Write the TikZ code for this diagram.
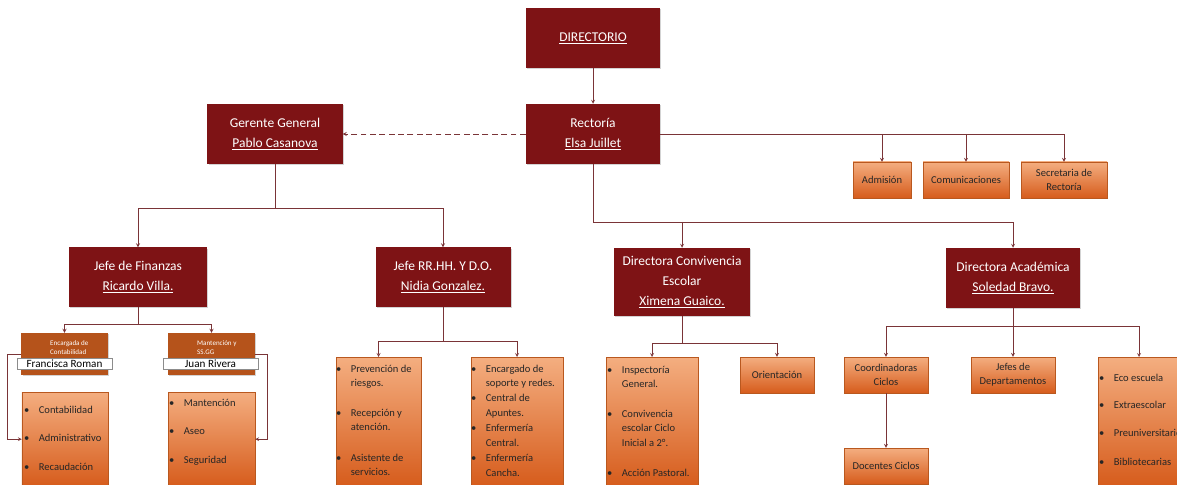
\documentclass[tikz,border=0pt]{standalone}
\usepackage{fontspec}
\setmainfont{Carlito}
\usetikzlibrary{shadows}

\definecolor{granate}{HTML}{7E1315}
\definecolor{naranjaclaro}{HTML}{F4AE80}
\definecolor{naranjaoscuro}{HTML}{D65C1C}
\definecolor{naranjaborde}{HTML}{B9581F}
\definecolor{cobre}{HTML}{B5531B}
\definecolor{linea}{HTML}{7A3437}

\newenvironment{puntos}[1]{\fontsize{9}{#1}\selectfont\begin{tabular}[t]{@{}l@{\hspace{8pt}}l@{}}}{\end{tabular}}

\begin{document}
\begin{tikzpicture}[x=0.03cm, y=-0.03cm,
        sombra/.style={drop shadow={shadow xshift=1.2pt, shadow yshift=-1.2pt, opacity=0.35}},
        jefe/.style={rectangle, fill=granate, text=white, align=center, minimum width=4.02cm, minimum height=1.8cm, font=\fontsize{11.5}{17}\selectfont, sombra},
        unidad/.style={rectangle, draw=naranjaborde, line width=0.3pt, top color=naranjaclaro, bottom color=naranjaoscuro, align=center, minimum height=1.08cm, font=\fontsize{9}{12}\selectfont, text=black!85, sombra},
        lista/.style={unidad, anchor=north},
        items/.style={inner sep=0pt, anchor=base west, text=black!85},
        encargo/.style={rectangle, fill=cobre, minimum width=2.58cm, minimum height=1.26cm, sombra},
        cinta/.style={rectangle, draw=black!45, fill=white, minimum width=2.85cm, minimum height=0.33cm, inner sep=0pt, font=\fontsize{9.5}{10}\selectfont},
        conector/.style={draw=linea, line width=0.5pt},
        arrow/.style={conector, ->, >=stealth}
    ]
        \useasboundingbox (0,0) rectangle (1177,485);

        % direccion
        \node[jefe] (dir) at (593,38) {\underline{DIRECTORIO}};
        \node[jefe] (rect) at (593,134) {Rectoría\\\underline{Elsa Juillet}};
        \node[jefe, minimum width=4.05cm] (ger) at (275,134) {Gerente General\\\underline{Pablo Casanova}};

        \node[unidad, minimum width=1.74cm] (adm) at (882,180) {Admisión};
        \node[unidad, minimum width=2.58cm] (com) at (966,180) {Comunicaciones};
        \node[unidad, minimum width=2.58cm] (sec) at (1064,180) {Secretaria de\\Rectoría};

        % jefaturas
        \node[jefe, minimum width=4.14cm, minimum height=1.77cm] (fin) at (138,277) {Jefe de Finanzas\\\underline{Ricardo Villa.}};
        \node[jefe, minimum width=4.05cm, minimum height=1.77cm] (rrhh) at (443,277) {Jefe RR.HH. Y D.O.\\\underline{Nidia Gonzalez.}};
        \node[jefe, minimum width=4.08cm, minimum height=2.04cm] (conv) at (682,282) {Directora Convivencia\\Escolar\\\underline{Ximena Guaico.}};
        \node[jefe] (acad) at (1013,278) {Directora Académica\\\underline{Soledad Bravo.}};

        % finanzas
        \node[encargo] (enc) at (64.5,354) {};
        \node[encargo, minimum width=2.61cm] (man) at (211.5,354) {};
        \node[items, text=white] (enct) at (50,345) {\fontsize{6}{8.5}\selectfont\begin{tabular}[t]{@{}l@{}}Encargada de\\Contabilidad\end{tabular}};
        \node[items, text=white] (mant) at (197,345) {\fontsize{6}{8.5}\selectfont\begin{tabular}[t]{@{}l@{}}Mantención y\\SS.GG\end{tabular}};
        \node[cinta] (fran) at (64.5,363.5) {Francisca Roman};
        \node[cinta] (juan) at (210.5,363.5) {Juan Rivera};

        \node[lista, minimum width=2.58cm, minimum height=2.82cm] (lfin) at (65,392) {};
        \node[lista, minimum width=2.61cm, minimum height=2.82cm] (lman) at (211.5,392) {};
        \node[items] (tfin) at (24,413) {\begin{puntos}{11}\textbullet & Contabilidad\\[13.6pt] \textbullet & Administrativo\\[13.6pt] \textbullet & Recaudación\end{puntos}};
        \node[items] (tman) at (169,406) {\begin{puntos}{11}\textbullet & Mantención\\[13.6pt] \textbullet & Aseo\\[13.6pt] \textbullet & Seguridad\end{puntos}};

        % rrhh
        \node[lista, minimum width=2.55cm, minimum height=3.87cm] (lrec) at (378.5,357) {};
        \node[lista, minimum width=2.76cm, minimum height=3.87cm] (lsop) at (517,357) {};
        \node[items] (trec) at (336,372) {\begin{puntos}{12}\textbullet & Prevención de\\ & riesgos.\\[14.3pt] \textbullet & Recepción y\\ & atención.\\[14.3pt] \textbullet & Asistente de\\ & servicios.\end{puntos}};
        \node[items] (tsop) at (471,372) {\begin{puntos}{12.7}\textbullet & Encargado de\\ & soporte y redes.\\ \textbullet & Central de\\ & Apuntes.\\ \textbullet & Enfermería\\ & Central.\\ \textbullet & Enfermería\\ & Cancha.\end{puntos}};

        % convivencia
        \node[lista, minimum width=2.76cm, minimum height=3.87cm] (lins) at (652,357) {};
        \node[unidad, minimum width=2.22cm] (ori) at (777,375) {Orientación};
        \node[items] (tins) at (607,373) {\begin{puntos}{12.3}\textbullet & Inspectoría\\ & General.\\[13.2pt] \textbullet & Convivencia\\ & escolar Ciclo\\ & Inicial a 2°.\\[14pt] \textbullet & Acción Pastoral.\end{puntos}};

        % academica
        \node[unidad, minimum width=2.52cm] (coord) at (886,375) {Coordinadoras\\Ciclos};
        \node[unidad, minimum width=2.52cm] (jefes) at (1013,375) {Jefes de\\Departamentos};
        \node[unidad, minimum width=2.52cm] (doc) at (886,466) {Docentes Ciclos};
        \node[lista, minimum width=2.46cm, minimum height=3.87cm] (leco) at (1139,357) {};
        \node[items] (teco) at (1099,381) {\begin{puntos}{11}\textbullet & Eco escuela\\[12.8pt] \textbullet & Extraescolar\\[12.8pt] \textbullet & Preuniversitario\\[13.5pt] \textbullet & Bibliotecarias\end{puntos}};

        % conectores
        \draw[arrow] (dir) -- (rect);
        \draw[arrow, dash pattern=on 5pt off 3pt] (rect) -- (ger);
        \draw[arrow] (rect.east) -| (sec.north);
        \draw[arrow] (rect.east -| adm.north) -- (adm.north);
        \draw[arrow] (rect.east -| com.north) -- (com.north);

        \coordinate (brec) at (593,222);
        \draw[arrow] (rect.south) -- (brec) -| (acad.north);
        \draw[arrow] (brec -| conv.north) -- (conv.north);

        \coordinate (bger) at (275,208);
        \draw[arrow] (ger.south) -- (bger) -| (fin.north);
        \draw[arrow] (bger) -| (rrhh.north);

        \coordinate (bfin) at (138,324);
        \draw[arrow] (fin.south) -- (bfin) -| (enc.north);
        \draw[arrow] (bfin) -| (man.north);
        \draw[arrow] (enc.west) -- ++(-14,0) |- (lfin.west);
        \draw[arrow] (man.east) -- ++(12,0) |- (lman.east);

        \coordinate (brrhh) at (443,341);
        \draw[arrow] (rrhh.south) -- (brrhh) -| (lrec.north);
        \draw[arrow] (brrhh) -| (lsop.north);

        \coordinate (bconv) at (682,343);
        \draw[arrow] (conv.south) -- (bconv) -| (lins.north);
        \draw[arrow] (bconv) -| (ori.north);

        \coordinate (bacad) at (1013,326);
        \draw[arrow] (acad.south) -- (bacad) -| (coord.north);
        \draw[arrow] (bacad) -- (jefes.north);
        \draw[arrow] (bacad) -| (leco.north);
        \draw[arrow] (coord) -- (doc);
    \end{tikzpicture}
\end{document}
